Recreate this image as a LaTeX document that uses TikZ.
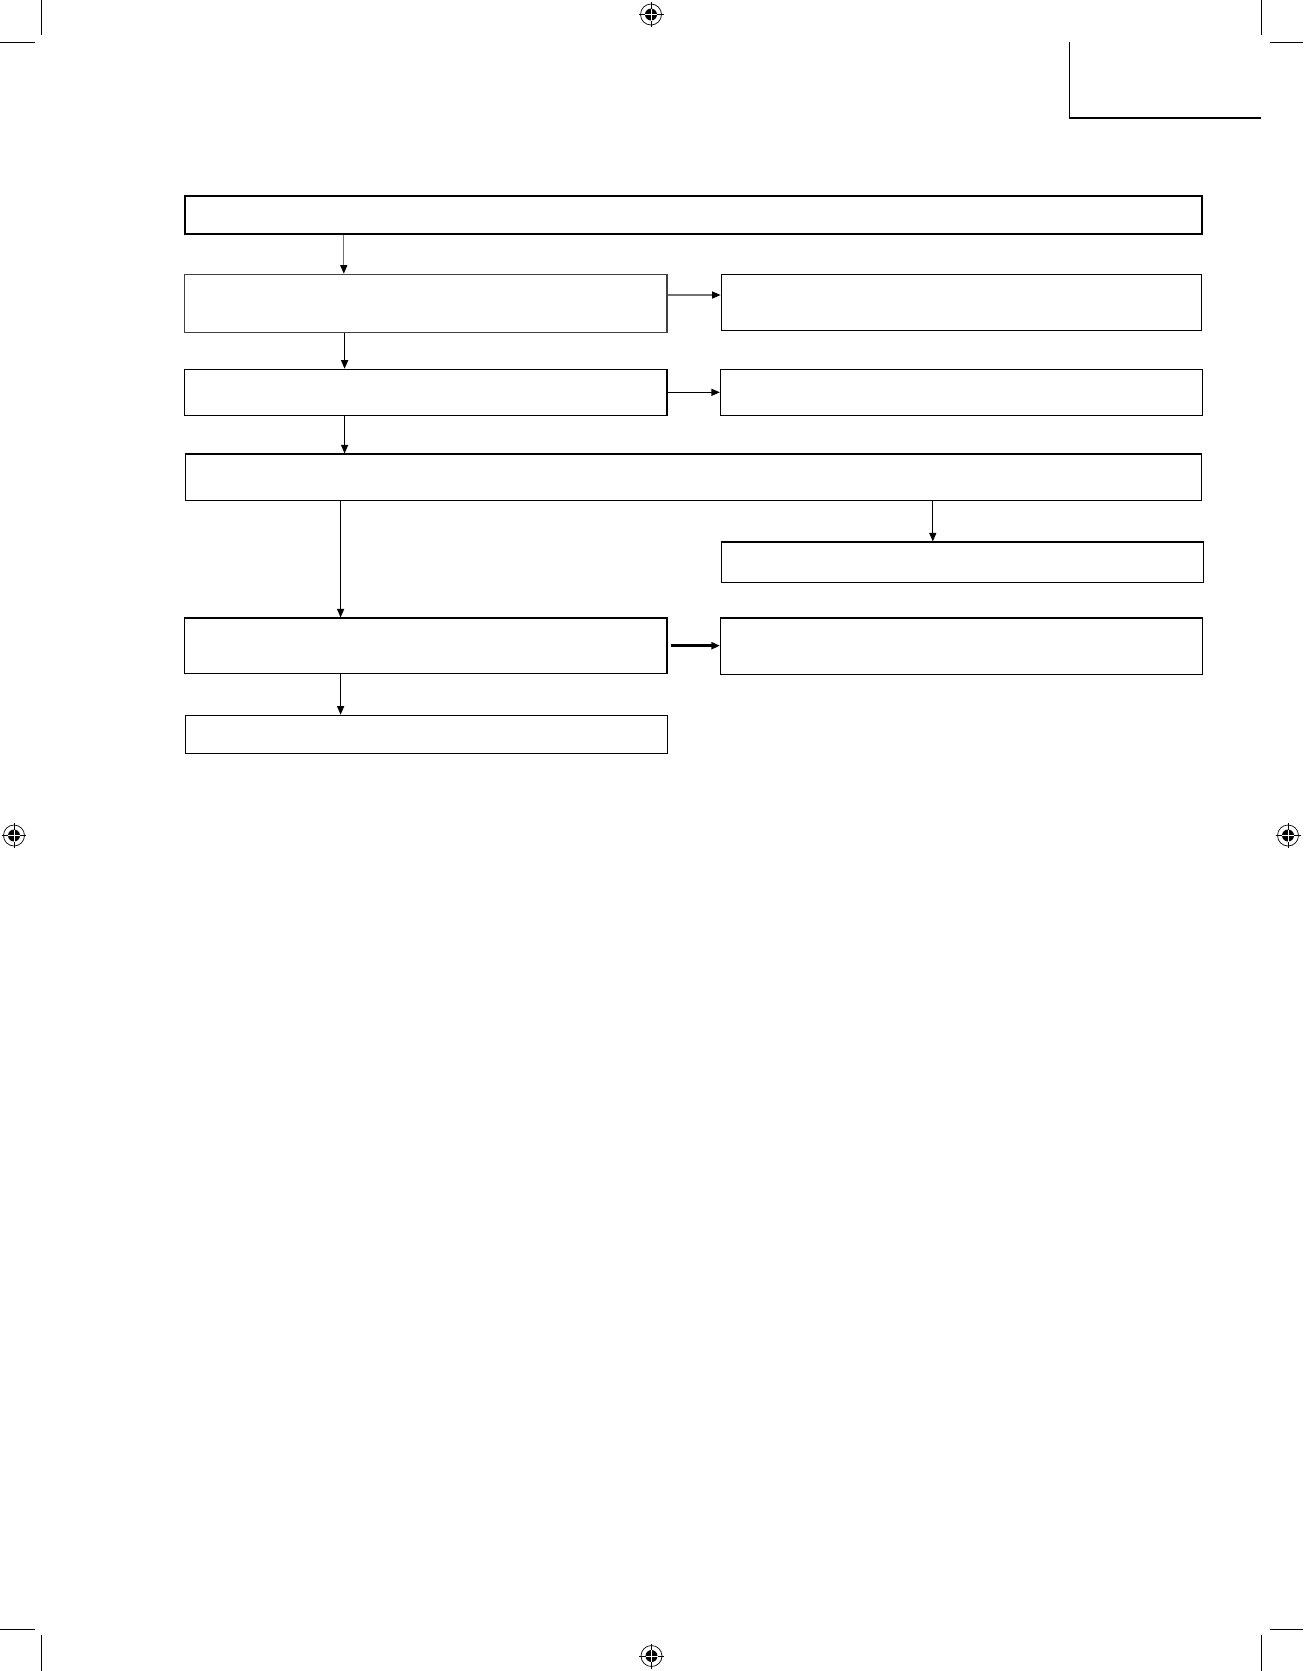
\documentclass[tikz,border=0pt]{standalone}
\usepackage{xcolor}
\usepackage{tikz}
\usetikzlibrary{positioning,arrows.meta}
\tikzset{
  regmark/.pic={
    \draw[line width=0.4pt] (0,0) circle[radius=0.21cm];
    \fill (0,0) circle[radius=0.12cm];
    \draw[line width=0.5pt] (-0.25cm,0) -- (0.25cm,0) (0,-0.25cm) -- (0,0.25cm);
    \draw[white,line width=0.35pt] (-0.12cm,0) -- (0.12cm,0) (0,-0.12cm) -- (0,0.12cm);
  }
}

\begin{document}
\begin{tikzpicture}[x=0.02cm, y=-0.02cm,
                    box/.style = {draw, rectangle, inner sep=0pt, line width=0.7pt},
                    heavybox/.style = {box, line width=1.3pt},
                    arr/.style = {-{Triangle[length=1.7mm,width=1.4mm,color=black]}, line width=0.7pt},
                    crop/.style = {line width=0.5pt}]
  \useasboundingbox (0,0) rectangle (1303,1671);

  % crop and registration marks
  \draw[crop] (41.5,0) -- (41.5,35) (0,42.3) -- (35,42.3);
  \draw[crop] (1261.4,0) -- (1261.4,35) (1269.7,42.3) -- (1303,42.3);
  \draw[crop] (41.5,1635) -- (41.5,1671) (0,1629.3) -- (35,1629.3);
  \draw[crop] (1261.4,1635) -- (1261.4,1671) (1269.7,1629.3) -- (1303,1629.3);
  \draw[line width=0.9pt] (1069.5,42.3) -- (1069.5,118) -- (1260.6,118);
  \foreach \px/\py in {651/14.5, 14/835.5, 1288/835.5, 651.5/1656}
    \pic at (\px,\py) {regmark};

  % boxes
  \node[heavybox, minimum width=20.34cm, minimum height=0.766cm] (top) at (693.3,214.9) {};
  \node[box, draw=black!75, minimum width=9.652cm, minimum height=1.16cm] (a1) at (425.7,303.3) {};
  \node[box, minimum width=9.604cm, minimum height=1.12cm] (b1) at (961.3,302.3) {};
  \node[box, minimum width=9.652cm, minimum height=0.92cm] (a2) at (425.7,392.3) {};
  \node[box, minimum width=9.646cm, minimum height=0.92cm] (b2) at (961.6,392.3) {};
  \node[box, minimum width=20.33cm, minimum height=0.926cm] (mid) at (693.6,477.2) {};
  \node[box, minimum width=9.646cm, minimum height=0.806cm] (b3) at (962.4,562.2) {};
  \node[box, minimum width=9.652cm, minimum height=1.106cm] (a4) at (425.7,645.7) {};
  \node[box, minimum width=9.646cm, minimum height=1.126cm] (b4) at (961.6,646.2) {};
  \node[box, minimum width=9.642cm, minimum height=0.76cm] (a5) at (426.4,734.3) {};

  \coordinate (k1) at (343.8,0);
  \coordinate (k2) at (344.6,0);
  \coordinate (k3) at (340.6,0);
  \coordinate (k4) at (932.8,0);

  % arrows
  \draw[arr, draw=black!55] (k1 |- top.south) to (k1 |- a1.north);
  \draw[arr, draw=black!55] ([yshift=0.166cm]a1.east) to ([yshift=0.166cm]a1.east -| b1.west);
  \draw[arr] (k2 |- a1.south) to (k2 |- a2.north);
  \draw[arr] (a2.east) to (a2.east -| b2.west);
  \draw[arr] (k2 |- a2.south) to (k2 |- mid.north);
  \draw[arr] (k4 |- mid.south) to (k4 |- b3.north);
  \draw[arr] (k3 |- mid.south) to (k3 |- a4.north);
  \draw[arr, line width=1.4pt, shorten <=1.8pt] (a4.east) to (a4.east -| b4.west);
  \draw[arr] (k3 |- a4.south) to (k3 |- a5.north);
\end{tikzpicture}
\end{document}
